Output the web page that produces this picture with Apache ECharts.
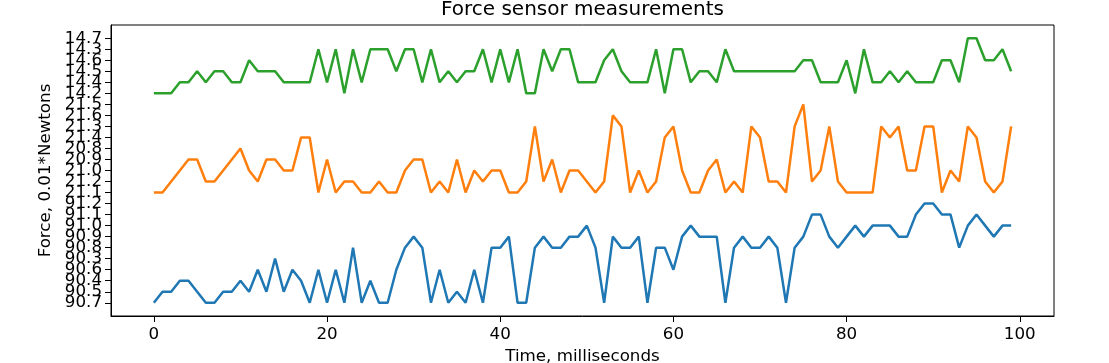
<!DOCTYPE html>
<html>
<head>
<meta charset="utf-8">
<script src="https://cdn.jsdelivr.net/npm/echarts@6/dist/echarts.min.js"></script>
<style>
html,body{margin:0;padding:0;background:#fff;}
#chart{width:1109px;height:363px;}
</style>
</head>
<body>
<div id="chart"></div>
<script>
// Categorical y levels, bottom to top, in order of first appearance
var yTickLabels = ['90.7','90.5','90.4','90.6','90.3','90.8','90.9','91.0','91.1','91.2',
  '21.1','21.2','21.0','20.9','20.8','21.4','21.3','21.6','21.5',
  '14.2','14.4','14.5','14.6','14.3','14.7'];

var xTickValues = [0, 20, 40, 60, 80, 100];

var timeMs = [0,1,2,3,4,5,6,7,8,9,10,11,12,13,14,15,16,17,18,19,20,21,22,23,24,25,26,27,28,29,
  30,31,32,33,34,35,36,37,38,39,40,41,42,43,44,45,46,47,48,49,50,51,52,53,54,55,56,57,58,59,
  60,61,62,63,64,65,66,67,68,69,70,71,72,73,74,75,76,77,78,79,80,81,82,83,84,85,86,87,88,89,
  90,91,92,93,94,95,96,97,98,99];

var sensorA = ['90.7','90.5','90.5','90.4','90.4','90.5','90.7','90.7','90.5','90.5',
  '90.4','90.5','90.6','90.5','90.3','90.5','90.6','90.4','90.7','90.6',
  '90.7','90.6','90.7','90.8','90.7','90.4','90.7','90.7','90.6','90.8',
  '90.9','90.8','90.7','90.6','90.7','90.5','90.7','90.6','90.7','90.8',
  '90.8','90.9','90.7','90.7','90.8','90.9','90.8','90.8','90.9','90.9',
  '91.0','90.8','90.7','90.9','90.8','90.8','90.9','90.7','90.8','90.8',
  '90.6','90.9','91.0','90.9','90.9','90.9','90.7','90.8','90.9','90.8',
  '90.8','90.9','90.8','90.7','90.8','90.9','91.1','91.1','90.9','90.8',
  '90.9','91.0','90.9','91.0','91.0','91.0','90.9','90.9','91.1','91.2',
  '91.2','91.1','91.1','90.8','91.0','91.1','91.0','90.9','91.0','91.0'];

var sensorB = ['21.1','21.1','21.2','21.0','20.9','20.9','21.2','21.2','21.0','20.9',
  '20.8','21.0','21.2','20.9','20.9','21.0','21.0','21.4','21.4','21.1',
  '20.9','21.1','21.2','21.2','21.1','21.1','21.2','21.1','21.1','21.0',
  '20.9','20.9','21.1','21.2','21.1','20.9','21.1','21.0','21.2','21.0',
  '21.0','21.1','21.1','21.2','21.3','21.2','20.9','21.1','21.0','21.0',
  '21.2','21.1','21.2','21.6','21.3','21.1','21.0','21.1','21.2','21.4',
  '21.3','21.0','21.1','21.1','21.0','20.9','21.1','21.2','21.1','21.3',
  '21.4','21.2','21.2','21.1','21.3','21.5','21.2','21.0','21.3','21.2',
  '21.1','21.1','21.1','21.1','21.3','21.4','21.3','21.0','21.0','21.3',
  '21.3','21.1','21.0','21.2','21.3','21.4','21.2','21.1','21.2','21.3'];

var sensorC = ['14.2','14.2','14.2','14.4','14.4','14.5','14.4','14.5','14.5','14.4',
  '14.4','14.6','14.5','14.5','14.5','14.4','14.4','14.4','14.4','14.3',
  '14.4','14.3','14.2','14.3','14.4','14.3','14.3','14.3','14.5','14.3',
  '14.3','14.4','14.3','14.4','14.5','14.4','14.5','14.5','14.3','14.4',
  '14.3','14.4','14.3','14.2','14.2','14.3','14.5','14.3','14.3','14.4',
  '14.4','14.4','14.6','14.3','14.5','14.4','14.4','14.4','14.3','14.2',
  '14.3','14.3','14.4','14.5','14.5','14.4','14.3','14.5','14.5','14.5',
  '14.5','14.5','14.5','14.5','14.5','14.6','14.6','14.4','14.4','14.4',
  '14.6','14.2','14.3','14.4','14.4','14.5','14.4','14.5','14.4','14.4',
  '14.4','14.6','14.6','14.4','14.7','14.7','14.6','14.6','14.3','14.5'];

function toPoints(vals) {
  return vals.map(function (v, i) { return [timeMs[i], yTickLabels.indexOf(v)]; });
}

var FONT = 'DejaVu Sans';
var FS = 16.7;
var chart = echarts.init(document.getElementById('chart'), null, {renderer: 'canvas'});
var evenIdx = [], oddIdx = [];
yTickLabels.forEach(function (_, i) { (i % 2 === 0 ? evenIdx : oddIdx).push(i); });

function yAxisFor(vals, main) {
  return {
    type: 'value', min: -1.2, max: 25.2, position: 'left', offset: 0,
    name: main ? 'Force, 0.01*Newtons' : '', nameLocation: 'middle', nameGap: 55, nameRotate: 90,
    nameTextStyle: {fontFamily: FONT, fontSize: FS, color: '#000'},
    axisLine: {show: main, onZero: false, lineStyle: {color: '#000', width: 1}},
    axisTick: {show: true, length: 6, inside: false, customValues: vals, lineStyle: {color: '#000'}},
    axisLabel: {fontFamily: FONT, fontSize: FS, color: '#000', margin: 9, customValues: vals,
      showMinLabel: true, showMaxLabel: true, hideOverlap: false,
      formatter: function (v) { return yTickLabels[Math.round(v)]; }},
    splitLine: {show: false}
  };
}

chart.setOption({
  animation: false,
  backgroundColor: '#ffffff',
  title: {
    text: 'Force sensor measurements',
    left: 582.5, top: 0, textAlign: 'center', padding: 0,
    textStyle: {fontFamily: FONT, fontSize: 20, fontWeight: 'normal', color: '#000'}
  },
  grid: {left: 111, right: 55, top: 25, bottom: 47, show: true, containLabel: false,
         outerBoundsMode: 'none',
         borderColor: '#000', borderWidth: 1, backgroundColor: 'transparent'},
  xAxis: {
    type: 'value', min: -4.95, max: 103.95,
    name: 'Time, milliseconds', nameLocation: 'middle', nameGap: 31,
    nameTextStyle: {fontFamily: FONT, fontSize: FS, color: '#000'},
    axisLine: {show: true, onZero: false, lineStyle: {color: '#000', width: 1}},
    axisTick: {show: true, length: 6, inside: false, customValues: xTickValues, lineStyle: {color: '#000'}},
    axisLabel: {fontFamily: FONT, fontSize: FS, color: '#000', margin: 10, customValues: xTickValues,
      showMinLabel: true, showMaxLabel: true},
    splitLine: {show: false}
  },
  yAxis: [yAxisFor(evenIdx, true), yAxisFor(oddIdx, false)],
  series: [
    {type: 'line', yAxisIndex: 0, data: toPoints(sensorA), showSymbol: false, lineStyle: {color: '#1f77b4', width: 2.5}, itemStyle: {color: '#1f77b4'}},
    {type: 'line', yAxisIndex: 0, data: toPoints(sensorB), showSymbol: false, lineStyle: {color: '#ff7f0e', width: 2.5}, itemStyle: {color: '#ff7f0e'}},
    {type: 'line', yAxisIndex: 0, data: toPoints(sensorC), showSymbol: false, lineStyle: {color: '#2ca02c', width: 2.5}, itemStyle: {color: '#2ca02c'}}
  ]
});
</script>
</body>
</html>
